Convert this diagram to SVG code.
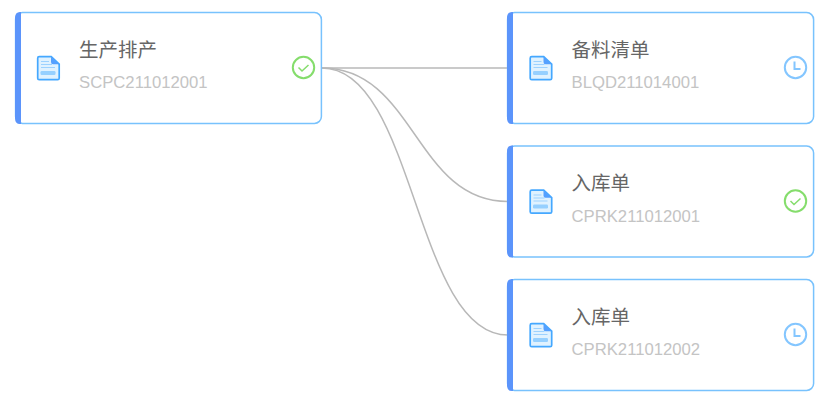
<svg xmlns="http://www.w3.org/2000/svg" width="824" height="401" viewBox="0 0 824 401">
<defs>
<style>
.card{fill:#fff;stroke:#78c2fd;stroke-width:1.500}
.bar{fill:#5b94fb}
.t{font-family:"Liberation Sans","Noto Sans CJK SC",sans-serif;font-size:19.500px;fill:#666}
.s{font-family:"Liberation Sans",Arial,sans-serif;font-size:16.700px;fill:#c4c4c4}
.c{fill:none;stroke:#b8b8b8;stroke-width:1.500}
.ok{fill:none;stroke:#85dd6c;stroke-width:2}
.wait{fill:none;stroke:#84c6ff;stroke-width:2}
</style>
<g id="doc">
<path d="M1.500 0H13.500L21.500 7.500V21.500Q21.500 23 20 23H1.500Q0 23 0 21.500V1.500Q0 0 1.500 0Z" transform="translate(.7 .7)" fill="#e0f2ff" stroke="#45a8ff" stroke-width="1.700"/>
<path d="M14 .7L22.200 8.200H16Q14 8.200 14 6Z" fill="#55a0ff"/>
<path d="M4 5.500H12M4 8.500H15M4 11.500H18" stroke="#9dd2ff" stroke-width="1" fill="none"/>
<rect x="3.500" y="15" width="15" height="4" rx="1.200" fill="#96d0ff"/>
</g>
<g id="okIcon"><circle r="10.700" class="ok"/><path d="M-5 0L-1.500 3.500L5 -2.500" fill="none" stroke="#85dd6c" stroke-width="1.500"/></g>
<g id="waitIcon"><circle r="10.700" class="wait"/><path d="M-1 -6V1.500H5" fill="none" stroke="#84c6ff" stroke-width="2"/></g>
</defs>
<g id="connectors">
<path class="c" d="M322 68H508"/>
<path class="c" d="M322 68C415 68 415 201.500 508 201.500"/>
<path class="c" d="M322 68C415 68 415 335 508 335"/>
</g>
<g id="node1">
<rect class="card" x="15.600" y="12.600" width="305.800" height="110.800" rx="7"/>
<path class="bar" d="M21 12H20Q15 12 15 18V118Q15 124 20 124H21Z"/>
<use href="#doc" x="37" y="56"/>
<text class="t" x="79" y="56.500">生产排产</text>
<text class="s" x="79" y="88">SCPC211012001</text>
<use href="#okIcon" x="303.500" y="67.500"/>
</g>
<g id="node2">
<rect class="card" x="507.600" y="12.600" width="306" height="110.800" rx="7"/>
<path class="bar" d="M513 12H512Q507 12 507 18V118Q507 124 512 124H513Z"/>
<use href="#doc" x="529.500" y="56"/>
<text class="t" x="571.500" y="56.500">备料清单</text>
<text class="s" x="571.500" y="88">BLQD211014001</text>
<use href="#waitIcon" x="795.500" y="67.500"/>
</g>
<g id="node3">
<rect class="card" x="507.600" y="146.100" width="306" height="110.800" rx="7"/>
<path class="bar" d="M513 145.500H512Q507 145.500 507 151.500V251.500Q507 257.500 512 257.500H513Z"/>
<use href="#doc" x="529.500" y="189.500"/>
<text class="t" x="571.500" y="190">入库单</text>
<text class="s" x="571.500" y="221.500">CPRK211012001</text>
<use href="#okIcon" x="795.500" y="201"/>
</g>
<g id="node4">
<rect class="card" x="507.600" y="279.600" width="306" height="110.800" rx="7"/>
<path class="bar" d="M513 279H512Q507 279 507 285V385Q507 391 512 391H513Z"/>
<use href="#doc" x="529.500" y="323"/>
<text class="t" x="571.500" y="323.500">入库单</text>
<text class="s" x="571.500" y="355">CPRK211012002</text>
<use href="#waitIcon" x="795.500" y="334.500"/>
</g>
</svg>
